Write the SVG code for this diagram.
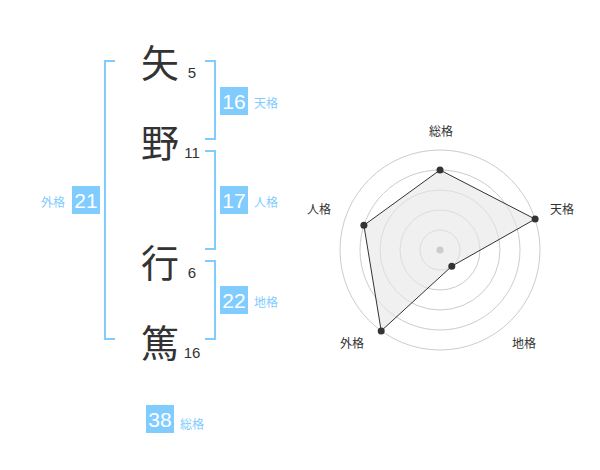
<svg xmlns="http://www.w3.org/2000/svg" width="600" height="470" viewBox="0 0 600 470">
<style>
.kanji{font-family:"Noto Sans CJK JP","Noto Sans",sans-serif;font-size:38px;fill:#333;text-anchor:middle;dominant-baseline:central}
.strk{font-family:"Liberation Sans",Arial,sans-serif;font-size:15px;fill:#333;text-anchor:middle}
.box{fill:#80ccff}
.num{font-family:"Liberation Sans",Arial,sans-serif;font-size:21px;fill:#fff;text-anchor:middle;dominant-baseline:central}
.lbl{font-family:"Noto Sans CJK JP","Noto Sans",sans-serif;font-size:12px;fill:#80ccff;dominant-baseline:central}
.br{fill:none;stroke:#80ccff;stroke-width:2}
.ring{fill:none;stroke:#ccc;stroke-width:1}
.rl{font-family:"Noto Sans CJK JP","Noto Sans",sans-serif;font-size:12px;fill:#333;text-anchor:middle;dominant-baseline:central}
.pt{fill:#333}
</style>
<rect width="600" height="470" fill="#fff"/>
<g id="connectors">
<polyline class="br" points="115,61 105,61 105,339 115,339"/>
<polyline class="br" points="205,61 215,61 215,139 205,139"/>
<polyline class="br" points="205,151 215,151 215,249 205,249"/>
<polyline class="br" points="205,261 215,261 215,339 205,339"/>
</g>
<g id="char1"><text class="kanji" x="160" y="60">矢</text><text class="strk" x="192" y="78">5</text></g>
<g id="char2"><text class="kanji" x="160" y="140">野</text><text class="strk" x="192" y="158">11</text></g>
<g id="char3"><text class="kanji" x="160" y="260">行</text><text class="strk" x="192" y="278">6</text></g>
<g id="char4"><text class="kanji" x="160" y="340">篤</text><text class="strk" x="192" y="358">16</text></g>
<g id="tenkaku"><rect class="box" x="220" y="87" width="28" height="28"/><text class="num" x="234" y="101">16</text><text class="lbl" x="254" y="102">天格</text></g>
<g id="jinkaku"><rect class="box" x="220" y="186" width="28" height="28"/><text class="num" x="234" y="200">17</text><text class="lbl" x="254" y="201">人格</text></g>
<g id="chikaku"><rect class="box" x="220" y="286" width="28" height="28"/><text class="num" x="234" y="300">22</text><text class="lbl" x="254" y="301">地格</text></g>
<g id="gaikaku"><rect class="box" x="72" y="186" width="28" height="28"/><text class="num" x="86" y="200">21</text><text class="lbl" x="41" y="201">外格</text></g>
<g id="soukaku"><rect class="box" x="146" y="405" width="28" height="28"/><text class="num" x="160" y="419">38</text><text class="lbl" x="180" y="423">総格</text></g>
<g id="radar">
<circle class="ring" cx="440" cy="250" r="20"/>
<circle class="ring" cx="440" cy="250" r="40"/>
<circle class="ring" cx="440" cy="250" r="60"/>
<circle class="ring" cx="440" cy="250" r="80"/>
<circle class="ring" cx="440" cy="250" r="100"/>
<polygon points="440,170 535.1,219.1 451.8,266.2 381.2,330.9 363.9,225.3" fill="#e6e6e6" fill-opacity="0.6" stroke="#333" stroke-width="1"/>
<circle cx="440" cy="250" r="3.5" fill="#ccc"/>
<circle class="pt" cx="440" cy="170" r="3.5"/>
<circle class="pt" cx="535.1" cy="219.1" r="3.5"/>
<circle class="pt" cx="451.8" cy="266.2" r="3.5"/>
<circle class="pt" cx="381.2" cy="330.9" r="3.5"/>
<circle class="pt" cx="363.9" cy="225.3" r="3.5"/>
<text class="rl" x="441" y="130">総格</text>
<text class="rl" x="562" y="208">天格</text>
<text class="rl" x="524" y="342">地格</text>
<text class="rl" x="352" y="342">外格</text>
<text class="rl" x="319" y="208">人格</text>
</g>
</svg>
